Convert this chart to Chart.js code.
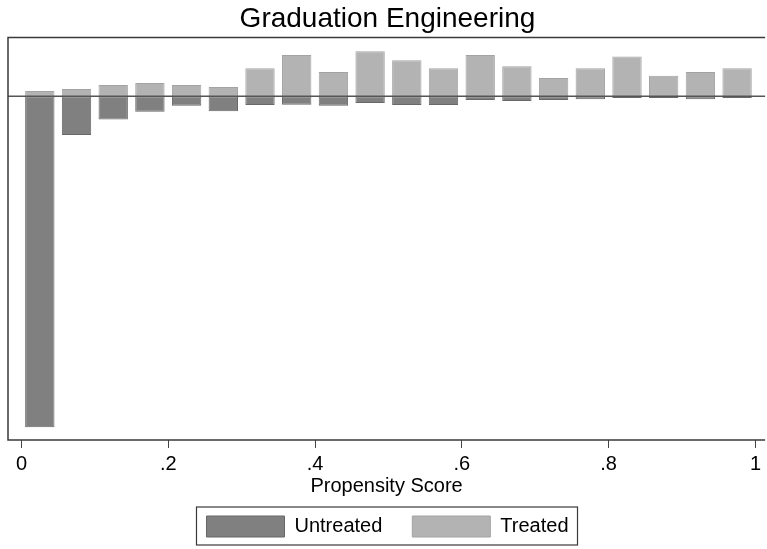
<!DOCTYPE html>
<html><head><meta charset="utf-8">
<script src="https://cdn.jsdelivr.net/npm/chart.js@4.4.1/dist/chart.umd.min.js"></script>
<style>html,body{margin:0;padding:0;background:#fff;overflow:hidden}</style>
</head><body>
<canvas id="c" width="767" height="549" style="display:block;width:767px;height:549px"></canvas>
<script>
// Propensity score bins (width 0.05), bin centres
const binCenters = [0.025,0.075,0.125,0.175,0.225,0.275,0.325,0.375,0.425,0.475,0.525,0.575,0.625,0.675,0.725,0.775,0.825,0.875,0.925,0.975];
// Treated (upward) heights
const treated = [5.3,7.3,11.3,13.3,11.3,9.3,28,41.3,24.3,45,36,28,41.3,30,18.3,28,39.7,20.7,24.3,28];
// Untreated (downward) heights
const untreated = [-330.6,-38.6,-23,-15.3,-9.3,-15,-8.7,-8.3,-9.3,-6.7,-8.7,-8.7,-3.7,-4.7,-3.7,-3,-1.7,-1.7,-3,-1.7];
const xTickValues = [0,0.2,0.4,0.6,0.8,1];
const xTickLabels = ['0','.2','.4','.6','.8','1'];
const seriesNames = ['Untreated','Treated'];

const FONT = 'Liberation Sans, Arial, sans-serif';

const toPoints = (vals) => vals.map((v,i)=>({x: binCenters[i], y: v}));

const framePlugin = {
  id: 'frame',
  afterDatasetsDraw(chart){
    const {ctx, chartArea:a, scales:{y}} = chart;
    ctx.save();
    const y0 = y.getPixelForValue(0);
    ctx.strokeStyle = '#555555'; ctx.lineWidth = 1.5;
    ctx.beginPath(); ctx.moveTo(a.left, y0); ctx.lineTo(a.right, y0); ctx.stroke();
    ctx.strokeStyle = '#3a3a3a'; ctx.lineWidth = 1.5;
    ctx.beginPath();
    ctx.moveTo(a.right, a.top); ctx.lineTo(a.left, a.top);
    ctx.lineTo(a.left, a.bottom); ctx.lineTo(a.right, a.bottom);
    ctx.stroke();
    ctx.restore();
  },
  afterDraw(chart){
    const lg = chart.legend;
    if(!lg || !lg.legendHitBoxes || !lg.legendHitBoxes.length) return;
    const hb = lg.legendHitBoxes;
    let l = Infinity, r = -Infinity, t = Infinity, b = -Infinity;
    hb.forEach(h=>{ l=Math.min(l,h.left); r=Math.max(r,h.left+h.width); t=Math.min(t,h.top); b=Math.max(b,h.top+h.height); });
    const ctx = chart.ctx;
    ctx.save();
    ctx.strokeStyle = '#3a3a3a'; ctx.lineWidth = 1.2;
    ctx.strokeRect(l-10, t-9, (r-l)+19, (b-t)+17);
    ctx.restore();
  }
};

new Chart(document.getElementById('c'), {
  type: 'bar',
  data: {
    datasets: [
      { label: seriesNames[0], data: toPoints(untreated), backgroundColor: '#808080', borderColor: '#686868', borderWidth: 1, borderSkipped: false },
      { label: seriesNames[1], data: toPoints(treated), backgroundColor: '#b3b3b3', borderColor: '#a3a3a3', borderWidth: 1, borderSkipped: false }
    ]
  },
  options: {
    responsive: false,
    animation: false,
    devicePixelRatio: 1,
    layout: { padding: { left: 8, right: 0, top: 0, bottom: 2 } },
    datasets: { bar: { grouped: false, barPercentage: 0.8, categoryPercentage: 1.0 } },
    scales: {
      x: {
        type: 'linear', min: -0.01835, max: 1.0132, offset: false,
        afterBuildTicks: (s) => { s.ticks = xTickValues.map(v=>({value:v})); },
        ticks: { callback: (v)=> { const i = xTickValues.indexOf(v); return i>=0 ? xTickLabels[i] : ''; }, font: { family: FONT, size: 20, lineHeight: 1 }, color: '#000', padding: 6, maxRotation: 0, autoSkip: false },
        grid: { display: true, offset: false, drawOnChartArea: false, drawTicks: true, tickLength: 8, color: '#444', lineWidth: 1 },
        border: { display: false },
        title: { display: true, text: 'Propensity Score', font: { family: FONT, size: 20, lineHeight: 0.2 }, color: '#000', padding: { top: 4, bottom: -2 } }
      },
      y: {
        display: false, min: -343.3, max: 58.7
      }
    },
    plugins: {
      title: { display: true, text: 'Graduation Engineering', font: { family: FONT, size: 28, weight: 'normal', lineHeight: 1.2 }, color: '#000', padding: { top: 2, bottom: 2 } },
      legend: { position: 'bottom', labels: { boxWidth: 78, boxHeight: 21, padding: 30, font: { family: FONT, size: 20 }, color: '#000' } },
      tooltip: { enabled: false }
    }
  },
  plugins: [framePlugin]
});
</script>
</body></html>
